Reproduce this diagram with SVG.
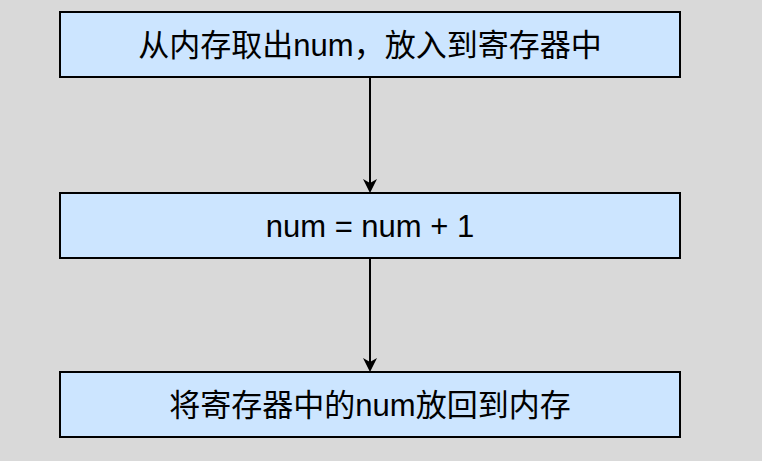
<svg xmlns="http://www.w3.org/2000/svg" width="762" height="461" viewBox="0 0 762 461">
<style>
.box{fill:#cce5ff;stroke:#000;stroke-width:2}
.t{font-family:"Liberation Sans","Noto Sans CJK SC",sans-serif;font-size:31px;text-anchor:middle;dominant-baseline:central;fill:#000}
.c{stroke:#000;stroke-width:2;fill:none;marker-end:url(#a)}
</style>
<defs><marker id="a" markerWidth="14" markerHeight="14" refX="12" refY="7" orient="auto" markerUnits="userSpaceOnUse"><path d="M0,0 L14,7 L0,14 L4,7 Z" fill="#000"/></marker></defs>
<rect width="762" height="461" fill="#d9d9d9"/>
<g id="connectors">
<line class="c" x1="370" y1="77" x2="370" y2="191"/>
<line class="c" x1="370" y1="258" x2="370" y2="370"/>
</g>
<g id="n1"><rect class="box" x="60" y="12" width="620" height="65"/><text class="t" x="370" y="45">从内存取出num，放入到寄存器中</text></g>
<g id="n2"><rect class="box" x="60" y="193" width="620" height="65"/><text class="t" x="370" y="226">num = num + 1</text></g>
<g id="n3"><rect class="box" x="60" y="372" width="620" height="65"/><text class="t" x="370" y="405">将寄存器中的num放回到内存</text></g>
</svg>
